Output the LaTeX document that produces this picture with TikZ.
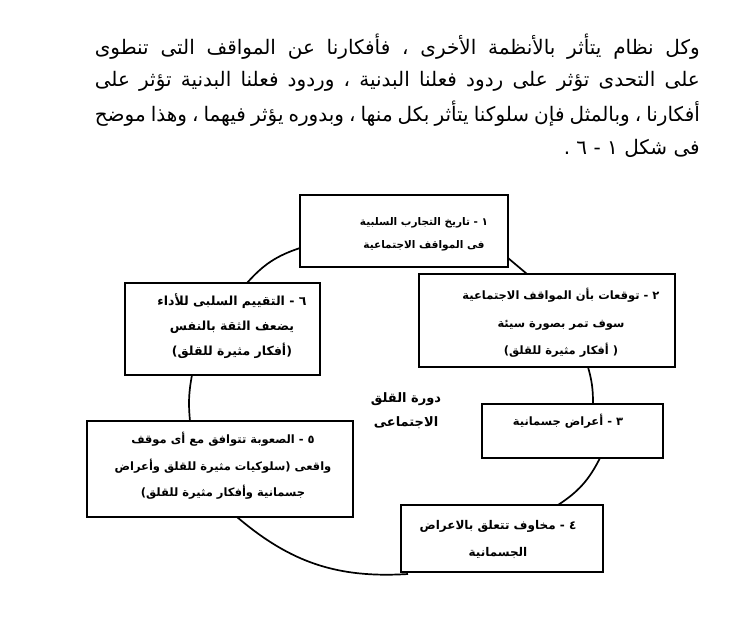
\documentclass[tikz,border=0pt]{standalone}
\usepackage{fontspec}
\TeXXeTstate=1
\newfontfamily\arabicfont[Script=Arabic]{DejaVu Sans}
\newcommand\AR[1]{\beginR #1\endR}
\begin{document}
\begin{tikzpicture}[x=1pt,y=-1pt,
  box/.style={draw, line width=1.9pt, inner sep=0pt},
  txt/.style={font=\arabicfont\bfseries\fontsize{11.5}{26}\selectfont, align=center, inner sep=0pt},
  para/.style={font=\arabicfont\fontsize{20}{24}\selectfont, inner sep=0pt},
  link/.style={line width=1.7pt}]
\useasboundingbox (0,0) rectangle (747,624);
% paragraph
\node[para, anchor=east] (p1) at (700,47) {\makebox[605pt][s]{\AR{وكل نظام يتأثر بالأنظمة الأخرى ، فأفكارنا عن المواقف التى تنطوى}}};
\node[para, anchor=east] (p2) at (700,81) {\makebox[605pt][s]{\AR{على التحدى تؤثر على ردود فعلنا البدنية ، وردود فعلنا البدنية تؤثر على}}};
\node[para, anchor=east] (p3) at (700,114) {\makebox[605pt][s]{\AR{أفكارنا ، وبالمثل فإن سلوكنا يتأثر بكل منها ، وبدوره يؤثر فيهما ، وهذا موضح}}};
\node[para, anchor=east] (p4) at (700,148) {\AR{فى شكل ١ - ٦ .}};
% boxes
\node[box, minimum width=208pt, minimum height=72pt] (b1) at (404,231) {};
\node[box, minimum width=256pt, minimum height=93pt] (b2) at (547,320.5) {};
\node[box, minimum width=181pt, minimum height=54pt] (b3) at (572.5,431) {};
\node[box, minimum width=202pt, minimum height=67pt] (b4) at (502,538.5) {};
\node[box, minimum width=266pt, minimum height=96pt] (b5) at (220,469) {};
\node[box, minimum width=195pt, minimum height=92pt] (b6) at (222.5,329) {};
% texts
\node[txt, font=\arabicfont\bfseries\fontsize{10.5}{23}\selectfont] (t1) at (424,234) {\AR{١ - تاريخ التجارب السلبية}\\\AR{فى المواقف الاجتماعية}};
\node[txt, font=\arabicfont\bfseries\fontsize{11.5}{27.5}\selectfont] (t2) at (561,323) {\AR{٢ - توقعات بأن المواقف الاجتماعية}\\\AR{سوف تمر بصورة سيئة}\\\AR{( أفكار مثيرة للقلق)}};
\node[txt] (t3) at (568,421) {\AR{٣ - أعراض جسمانية}};
\node[txt, font=\arabicfont\bfseries\fontsize{12}{27}\selectfont] (t4) at (498,539) {\AR{٤ - مخاوف تتعلق بالاعراض}\\\AR{الجسمانية}};
\node[txt, font=\arabicfont\bfseries\fontsize{11.5}{26.5}\selectfont] (t5) at (223,466) {\AR{٥ - الصعوبة تتوافق مع أى موقف}\\\AR{واقعى (سلوكيات مثيرة للقلق وأعراض}\\\AR{جسمانية وأفكار مثيرة للقلق)}};
\node[txt, font=\arabicfont\bfseries\fontsize{12.5}{25}\selectfont] (t6) at (232,326) {\AR{٦ - التقييم السلبى للأداء}\\\AR{يضعف الثقة بالنفس}\\\AR{(أفكار مثيرة للقلق)}};
\node[txt, font=\arabicfont\bfseries\fontsize{13}{24}\selectfont] (c) at (406,411) {\AR{دورة القلق}\\\AR{الاجتماعى}};
% connectors
\coordinate (a1) at (508,258);
\coordinate (a2) at (527,274);
\draw[link] (a1) -- (a2);
\coordinate (c2) at (588,367);
\coordinate (c3) at (593,404);
\draw[link] (c2) to[bend left=8] (c3);
\coordinate (d3) at (600,458);
\coordinate (d4) at (558,505);
\draw[link] (d3) to[bend left=15] (d4);
\coordinate (e4) at (408,574);
\coordinate (e5) at (237,517);
\draw[link] (e4) to[bend left=22] (e5);
\coordinate (f5) at (190,421);
\coordinate (f6) at (192,375);
\draw[link] (f5) to[bend left=8] (f6);
\coordinate (g6) at (247,283);
\coordinate (g1) at (300,248);
\draw[link] (g6) to[bend left=15] (g1);
\end{tikzpicture}
\end{document}
